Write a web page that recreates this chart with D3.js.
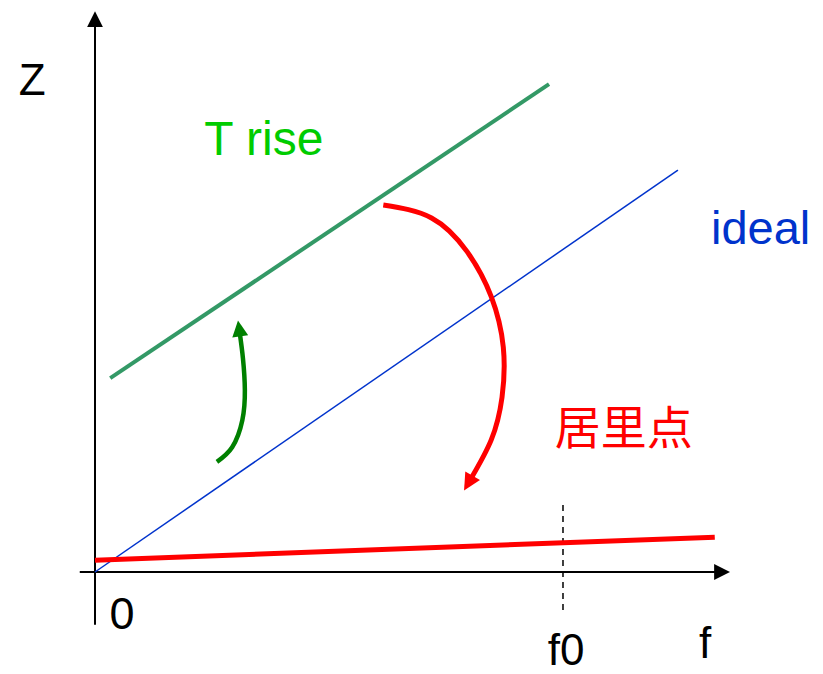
<!DOCTYPE html>
<html>
<head>
<meta charset="utf-8">
<script src="https://cdn.jsdelivr.net/npm/d3@7"></script>
<style>
  body { margin: 0; background: #fff; }
  svg { display: block; }
</style>
</head>
<body>
<div id="chart"></div>
<script>
// schematic data, in axis units (f: 0..100, Z: 0..100)
const idealLine = [[0, 0], [91.8, 71.5]];
const tRiseLine = [[2.4, 34.5], [71.5, 86.8]];
const curieLine = [[0, 2.1], [97.6, 6.2]];
const f0 = 73.7;
const f0Dash = [11.9, -6.8];
// curved arrows
const greenArrow = [[19.2, 19.6], [21.6, 22.2], [23.2, 27.0], [23.6, 32.4], [23.3, 38.0], [22.8, 42.5]];
const redArrow = [[45.4, 65.3], [53.0, 63.0], [58.6, 57.0], [62.4, 49.0], [64.3, 40.0],
  [64.1, 31.1], [62.4, 23.5], [59.2, 16.6]];
// labels
const labels = [
  { text: 'Z', x: -12.0, y: 84.8, color: '#000', size: 44, font: 'Arial, "Liberation Sans", sans-serif' },
  { text: '0', x: 2.3, y: -10.2, color: '#000', size: 45, font: 'Arial, "Liberation Sans", sans-serif' },
  { text: 'f0', x: 71.3, y: -16.6, color: '#000', size: 44, font: 'Arial, "Liberation Sans", sans-serif' },
  { text: 'f', x: 95.1, y: -15.3, color: '#000', size: 44, font: 'Arial, "Liberation Sans", sans-serif' },
  { text: 'T rise', x: 17.2, y: 74.2, color: '#00cc00', size: 48, font: 'Arial, "Liberation Sans", sans-serif' },
  { text: 'ideal', x: 97.0, y: 58.4, color: '#0033cc', size: 47, font: 'Arial, "Liberation Sans", sans-serif' },
  { text: '居里点', x: 72.4, y: 22.8, color: '#ff0000', size: 46, font: '"Noto Sans CJK SC", sans-serif' }
];

const width = 823, height = 674;
const svg = d3.select('#chart').append('svg')
  .attr('width', width)
  .attr('height', height);

const x = d3.scaleLinear().domain([0, 100]).range([95, 730]);
const y = d3.scaleLinear().domain([0, 100]).range([572, 10]);

// arrow markers
const defs = svg.append('defs');
function addMarker(id, color, w, h) {
  defs.append('marker')
    .attr('id', id)
    .attr('viewBox', '0 0 10 10')
    .attr('refX', 2)
    .attr('refY', 5)
    .attr('markerUnits', 'userSpaceOnUse')
    .attr('markerWidth', w)
    .attr('markerHeight', h)
    .attr('orient', 'auto')
    .append('path')
      .attr('d', 'M0,0 L10,5 L0,10 Z')
      .attr('fill', color);
}
addMarker('axis-head', '#000', 16, 16);
addMarker('green-head', '#008000', 18, 16);
addMarker('red-head', '#ff0000', 19, 17);

const line = d3.line().x(d => x(d[0])).y(d => y(d[1]));
const curve = d3.line().x(d => x(d[0])).y(d => y(d[1])).curve(d3.curveNatural);

// axes
svg.append('line')
  .attr('x1', x(-2.4)).attr('y1', y(0))
  .attr('x2', x(98)).attr('y2', y(0))
  .attr('stroke', '#000').attr('stroke-width', 2)
  .attr('marker-end', 'url(#axis-head)');
svg.append('line')
  .attr('x1', x(0)).attr('y1', y(-9.4))
  .attr('x2', x(0)).attr('y2', y(97.5))
  .attr('stroke', '#000').attr('stroke-width', 2)
  .attr('marker-end', 'url(#axis-head)');

// f0 dashed marker
svg.append('line')
  .attr('x1', x(f0)).attr('y1', y(f0Dash[0]))
  .attr('x2', x(f0)).attr('y2', y(f0Dash[1]))
  .attr('stroke', '#000').attr('stroke-width', 1.5)
  .attr('stroke-dasharray', '6,5');

// lines
svg.append('path').datum(idealLine)
  .attr('d', line).attr('fill', 'none')
  .attr('stroke', '#0033cc').attr('stroke-width', 1.5);
svg.append('path').datum(tRiseLine)
  .attr('d', line).attr('fill', 'none')
  .attr('stroke', '#339966').attr('stroke-width', 4);
svg.append('path').datum(curieLine)
  .attr('d', line).attr('fill', 'none')
  .attr('stroke', '#ff0000').attr('stroke-width', 5);

// curved arrows
svg.append('path').datum(greenArrow)
  .attr('d', curve).attr('fill', 'none')
  .attr('stroke', '#008000').attr('stroke-width', 4.5)
  .attr('marker-end', 'url(#green-head)');
svg.append('path').datum(redArrow)
  .attr('d', curve).attr('fill', 'none')
  .attr('stroke', '#ff0000').attr('stroke-width', 5)
  .attr('marker-end', 'url(#red-head)');

// text labels
svg.selectAll('.label')
  .data(labels)
  .join('text')
    .attr('class', 'label')
    .attr('x', d => x(d.x))
    .attr('y', d => y(d.y))
    .attr('fill', d => d.color)
    .style('font-family', d => d.font)
    .style('font-size', d => d.size + 'px')
    .text(d => d.text);
</script>
</body>
</html>
